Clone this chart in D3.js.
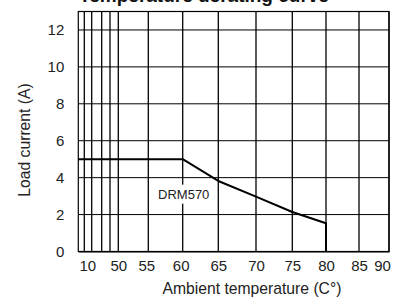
<!DOCTYPE html>
<html>
<head>
<meta charset="utf-8">
<script src="https://cdn.jsdelivr.net/npm/d3@7"></script>
<style>
  html, body { margin: 0; padding: 0; background: #fff; }
  svg { display: block; font-family: "Liberation Sans", Arial, sans-serif; }
</style>
</head>
<body>
<svg id="chart" width="410" height="300"></svg>
<script>
/* Temperature derating curve — DRM570 */

// x ticks (broken axis: 10..50 compressed, 55..90 wide)
const xTicks = [10, 20, 30, 40, 50, 55, 60, 65, 70, 75, 80, 85, 90];
const xTickLabels = ["10", "", "", "", "50", "55", "60", "65", "70", "75", "80", "85", "90"];
const yTicks = [0, 2, 4, 6, 8, 10, 12];

// derating curve (temperature °C, load current A)
const curveTemp = [5, 60, 65, 70, 75, 80, 80];
const curveLoad = [5, 5, 3.82, 2.97, 2.14, 1.53, 0];

const seriesName = "DRM570";
const title = "Temperature derating curve";

const svg = d3.select("#chart");

// piecewise scale mirrors the uneven grid of the original sheet
const x = d3.scaleLinear()
  .domain([5, 10, 20, 30, 40, 50, 55, 60, 65, 70, 75, 80, 85, 90])
  .range([78.3, 84.3, 91.7, 101.7, 110, 118.3, 148.3, 182.7, 218.3, 256, 292.3, 326, 359, 389]);
const y = d3.scaleLinear().domain([0, 13]).range([251.5, 11.5]);

const [x0, x1] = [x(5), x(90)];

/* ---------- grid ---------- */

const grid = svg.append("g");

grid.selectAll("line.h")
  .data(yTicks.slice(1))
  .join("line")
  .attr("class", "h")
  .attr("x1", x0).attr("x2", x1)
  .attr("y1", (d) => y(d)).attr("y2", (d) => y(d))
  .attr("stroke", "#000").attr("stroke-width", 1);

grid.selectAll("line.v")
  .data(xTicks)
  .join("line")
  .attr("class", "v")
  .attr("x1", (d) => x(d)).attr("x2", (d) => x(d))
  .attr("y1", y(0)).attr("y2", y(13))
  .attr("stroke", "#000").attr("stroke-width", 1.3);

// frame
grid.append("rect")
  .attr("x", x0).attr("y", y(13))
  .attr("width", x1 - x0).attr("height", y(0) - y(13))
  .attr("fill", "none").attr("stroke", "#000").attr("stroke-width", 1.2);

/* ---------- axes ---------- */

const labelShift = { 10: 3, 55: -2, 60: -2, 90: -7 };

const xAxis = d3.axisBottom(x)
  .tickValues(xTicks)
  .tickSize(0)
  .tickPadding(9)
  .tickFormat((d, i) => xTickLabels[i]);

svg.append("g")
  .attr("transform", `translate(0,${y(0)})`)
  .call(xAxis)
  .call((g) => g.select(".domain").attr("stroke", "#000").attr("stroke-width", 1))
  .call((g) => g.selectAll("text")
    .attr("font-size", 15).attr("fill", "#222")
    .attr("font-family", "Liberation Sans, Arial, sans-serif")
    .attr("dx", (d) => labelShift[d] || 0));

const yAxis = d3.axisLeft(y)
  .tickValues(yTicks)
  .tickSize(0)
  .tickPadding(14);

svg.append("g")
  .attr("transform", `translate(${x0},0)`)
  .call(yAxis)
  .call((g) => g.select(".domain").remove())
  .call((g) => g.selectAll("text")
    .attr("font-size", 15).attr("fill", "#222")
    .attr("font-family", "Liberation Sans, Arial, sans-serif"));

/* ---------- series label (white box breaks the grid) ---------- */

svg.append("rect")
  .attr("x", x(60) - 28).attr("y", y(4) + 7)
  .attr("width", 57).attr("height", 19)
  .attr("fill", "#fff");

svg.append("text")
  .attr("x", x(60) + 1).attr("y", y(4) + 21)
  .attr("text-anchor", "middle")
  .attr("font-size", 13).attr("fill", "#222")
  .text(seriesName);

/* ---------- curve ---------- */

const pts = curveTemp.map((t, i) => [t, curveLoad[i]]);
svg.append("path")
  .datum(pts)
  .attr("d", d3.line().x((d) => x(d[0])).y((d) => y(d[1])))
  .attr("fill", "none")
  .attr("stroke", "#000")
  .attr("stroke-width", 2)
  .attr("stroke-linejoin", "round");

/* ---------- titles ---------- */

svg.append("text")
  .attr("x", 204).attr("y", 2)
  .attr("text-anchor", "middle")
  .attr("font-size", 19).attr("font-weight", "bold").attr("fill", "#111")
  .text(title);

svg.append("text")
  .attr("x", 252).attr("y", 294)
  .attr("text-anchor", "middle")
  .attr("font-size", 15.7).attr("fill", "#222")
  .text("Ambient temperature (C°)");

svg.append("text")
  .attr("transform", `translate(30,140) rotate(-90)`)
  .attr("text-anchor", "middle")
  .attr("font-size", 15.7).attr("fill", "#222")
  .text("Load current (A)");
</script>
</body>
</html>
